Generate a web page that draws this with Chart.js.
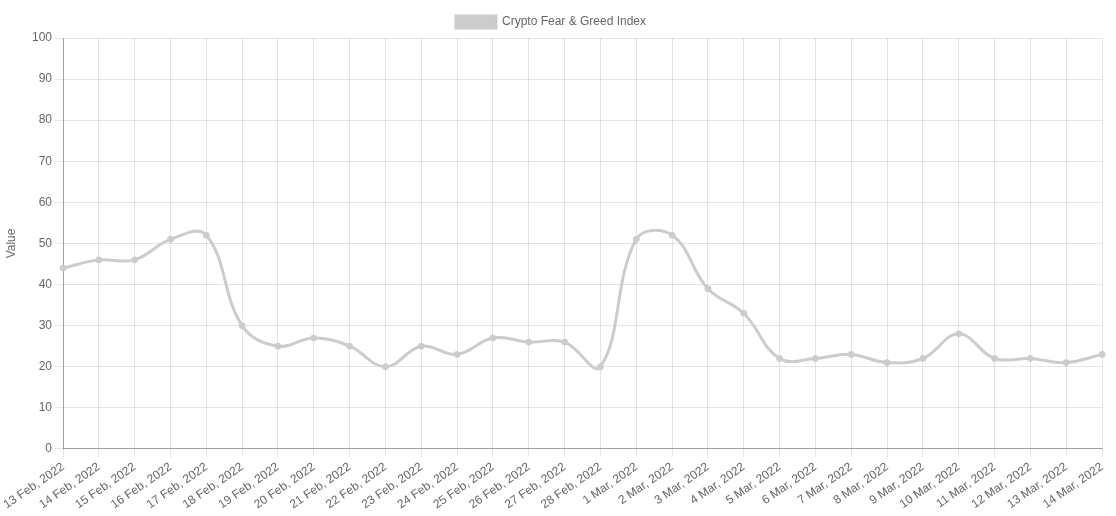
<!DOCTYPE html>
<html>
<head>
<meta charset="utf-8">
<script src="https://cdn.jsdelivr.net/npm/chart.js@4/dist/chart.umd.min.js"></script>
<style>
  html, body { margin: 0; padding: 0; background: #fff; }
  #wrap { width: 1116px; height: 516px; }
</style>
</head>
<body>
<div id="wrap"><canvas id="fngChart"></canvas></div>
<script>
var dates = ["13 Feb, 2022", "14 Feb, 2022", "15 Feb, 2022", "16 Feb, 2022", "17 Feb, 2022",
    "18 Feb, 2022", "19 Feb, 2022", "20 Feb, 2022", "21 Feb, 2022", "22 Feb, 2022",
    "23 Feb, 2022", "24 Feb, 2022", "25 Feb, 2022", "26 Feb, 2022", "27 Feb, 2022",
    "28 Feb, 2022", "1 Mar, 2022", "2 Mar, 2022", "3 Mar, 2022", "4 Mar, 2022",
    "5 Mar, 2022", "6 Mar, 2022", "7 Mar, 2022", "8 Mar, 2022", "9 Mar, 2022",
    "10 Mar, 2022", "11 Mar, 2022", "12 Mar, 2022", "13 Mar, 2022", "14 Mar, 2022"];
var fngValues = [44, 46, 46, 51, 52, 30, 25, 27, 25, 20,
    25, 23, 27, 26, 26, 20, 51, 52, 39, 33,
    22, 22, 23, 21, 22, 28, 22, 22, 21, 23];
var yTicks = [0, 10, 20, 30, 40, 50, 60, 70, 80, 90, 100];

Chart.defaults.font.family = "'Liberation Sans', Arial, sans-serif";
Chart.defaults.font.size = 12;
Chart.defaults.color = '#666';

var ctx = document.getElementById('fngChart').getContext('2d');
var fngChart = new Chart(ctx, {
    type: 'line',
    data: {
        labels: dates,
        datasets: [{
            label: "Crypto Fear & Greed Index",
            backgroundColor: 'rgb(204, 204, 204)',
            borderColor: 'rgb(204, 204, 204)',
            borderWidth: 3,
            pointRadius: 3,
            pointBorderWidth: 1,
            tension: 0.4,
            fill: false,
            data: fngValues
        }]
    },
    options: {
        responsive: true,
        maintainAspectRatio: false,
        animation: false,
        layout: { padding: { top: 6, right: 14, left: 0, bottom: 1 } },
        plugins: {
            legend: {
                labels: { boxWidth: 40, boxHeight: 12, padding: 10 }
            },
            tooltip: { enabled: false }
        },
        scales: {
            x: {
                grid: { color: 'rgba(0,0,0,0.1)' },
                border: { color: 'rgba(0,0,0,0.3)' },
                ticks: { autoSkip: false, maxRotation: 50 }
            },
            y: {
                min: 0,
                max: 100,
                afterBuildTicks: function(axis) {
                    axis.ticks = yTicks.map(function(v) { return { value: v }; });
                },
                afterFit: function(axis) {
                    axis.width = 63;
                },
                grid: { color: 'rgba(0,0,0,0.1)' },
                border: { color: 'rgba(0,0,0,0.3)' },
                title: { display: true, text: 'Value' }
            }
        }
    }
});
</script>
</body>
</html>
